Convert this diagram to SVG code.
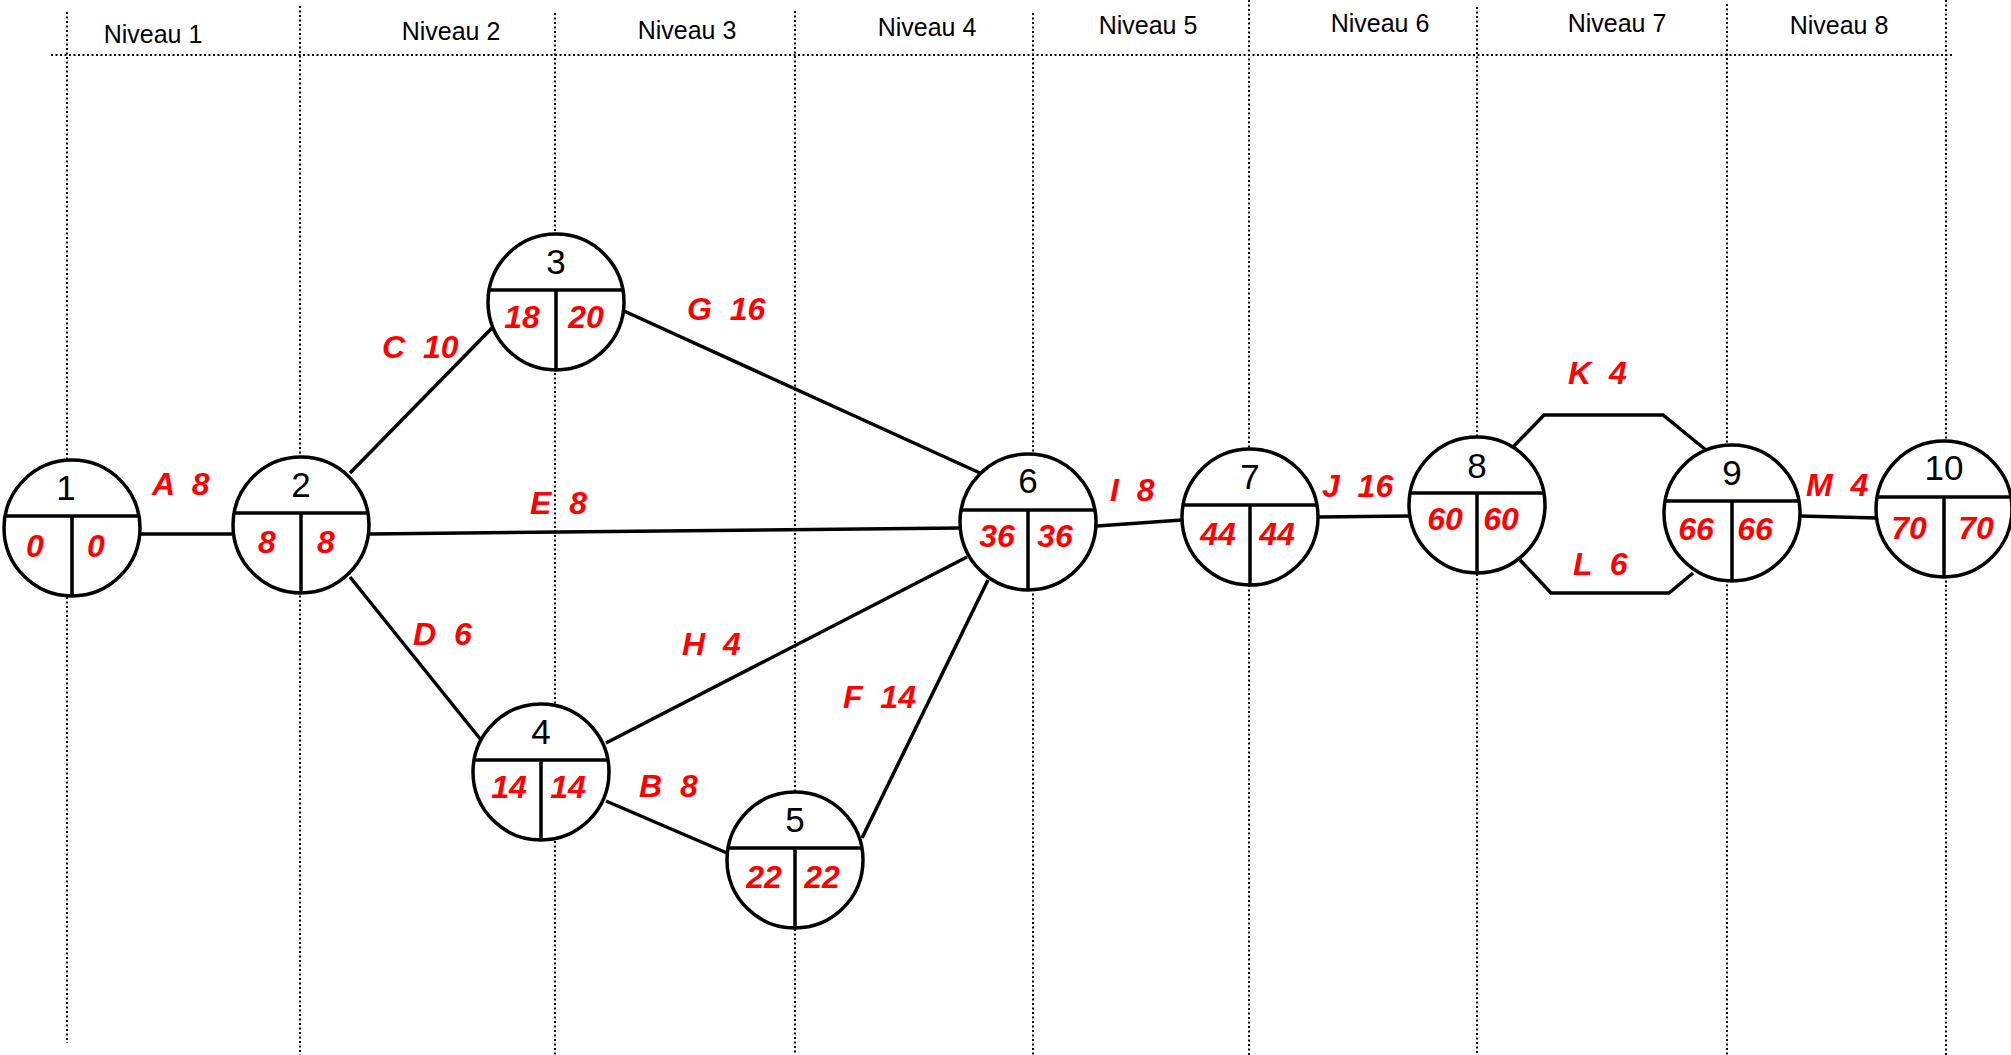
<svg xmlns="http://www.w3.org/2000/svg" xmlns:xlink="http://www.w3.org/1999/xlink" width="2011" height="1055" viewBox="0 0 2011 1055">
  <style>
    .grid { stroke: #000; stroke-width: 2; stroke-dasharray: 2 2.5; fill: none; }
    .lvl { font-family: "Liberation Sans", Arial, sans-serif; font-size: 25px; fill: #000; text-anchor: middle; }
    .edge { stroke: #000; stroke-width: 3.5; fill: none; stroke-linejoin: miter; }
    .elabel { font-family: "Liberation Sans", Arial, sans-serif; font-size: 32px; font-weight: bold; font-style: italic; fill: #ff0000; }
    .ring { fill: #fff; stroke: #000; stroke-width: 3.5; }
    .div { stroke: #000; stroke-width: 3.5; }
    .num { font-family: "Liberation Sans", Arial, sans-serif; font-size: 35px; fill: #000; text-anchor: middle; }
    .val { font-family: "Liberation Sans", Arial, sans-serif; font-size: 32px; font-weight: bold; font-style: italic; fill: #ff0000; text-anchor: middle; }
  </style>
  <defs>
    <!-- event circle: number on top, earliest / latest dates below -->
    <g id="node-shape">
      <circle class="ring" cx="0" cy="0" r="68"/>
      <line class="div" x1="-67" y1="-12" x2="67" y2="-12"/>
      <line class="div" x1="0" y1="-12" x2="0" y2="68"/>
    </g>
  </defs>

  <rect width="2011" height="1055" fill="#fff"/>

  <!-- level grid -->
  <g id="grid">
    <line class="grid" x1="51" y1="55" x2="1953" y2="55"/>
    <line class="grid" x1="67" y1="12" x2="67" y2="1043"/>
    <line class="grid" x1="300" y1="6" x2="300" y2="1055"/>
    <line class="grid" x1="555" y1="13" x2="555" y2="1055"/>
    <line class="grid" x1="795" y1="11" x2="795" y2="1055"/>
    <line class="grid" x1="1033" y1="13" x2="1033" y2="1055"/>
    <line class="grid" x1="1249" y1="0" x2="1249" y2="1055"/>
    <line class="grid" x1="1477" y1="7" x2="1477" y2="1055"/>
    <line class="grid" x1="1727" y1="4" x2="1727" y2="1055"/>
    <line class="grid" x1="1946" y1="0" x2="1946" y2="1055"/>
    <text class="lvl" x="153" y="43">Niveau 1</text>
    <text class="lvl" x="451" y="40">Niveau 2</text>
    <text class="lvl" x="687" y="39">Niveau 3</text>
    <text class="lvl" x="927" y="36">Niveau 4</text>
    <text class="lvl" x="1148" y="34">Niveau 5</text>
    <text class="lvl" x="1380" y="32">Niveau 6</text>
    <text class="lvl" x="1617" y="32">Niveau 7</text>
    <text class="lvl" x="1839" y="34">Niveau 8</text>
  </g>

  <!-- activities -->
  <g id="connectors">
    <line class="edge" x1="140" y1="534" x2="233" y2="534"/>
    <line class="edge" x1="350" y1="473" x2="492" y2="328"/>
    <line class="edge" x1="369" y1="534" x2="960" y2="528"/>
    <line class="edge" x1="350" y1="577" x2="481" y2="740"/>
    <line class="edge" x1="624" y1="311" x2="980" y2="473"/>
    <line class="edge" x1="606" y1="743" x2="967" y2="557"/>
    <line class="edge" x1="606" y1="801" x2="727" y2="853"/>
    <line class="edge" x1="862" y1="838" x2="988" y2="580"/>
    <line class="edge" x1="1097" y1="526" x2="1182" y2="520"/>
    <line class="edge" x1="1318" y1="517" x2="1409" y2="516"/>
    <polyline class="edge" points="1513,447 1544,415 1663,415 1706,450"/>
    <polyline class="edge" points="1520,560 1551,593 1669,593 1693,573"/>
    <line class="edge" x1="1800" y1="516" x2="1877" y2="518"/>

    <text class="elabel" xml:space="preserve" x="152" y="495">A  8</text>
    <text class="elabel" xml:space="preserve" x="382" y="358">C  10</text>
    <text class="elabel" xml:space="preserve" x="687" y="320">G  16</text>
    <text class="elabel" xml:space="preserve" x="530" y="514">E  8</text>
    <text class="elabel" xml:space="preserve" x="413" y="645">D  6</text>
    <text class="elabel" xml:space="preserve" x="682" y="655">H  4</text>
    <text class="elabel" xml:space="preserve" x="639" y="797">B  8</text>
    <text class="elabel" xml:space="preserve" x="843" y="708">F  14</text>
    <text class="elabel" xml:space="preserve" x="1110" y="501">I  8</text>
    <text class="elabel" xml:space="preserve" x="1322" y="497">J  16</text>
    <text class="elabel" xml:space="preserve" x="1568" y="384">K  4</text>
    <text class="elabel" xml:space="preserve" x="1573" y="575">L  6</text>
    <text class="elabel" xml:space="preserve" x="1806" y="496">M  4</text>
  </g>

  <!-- events -->
  <g id="node1" transform="translate(72,528)">
    <use href="#node-shape" xlink:href="#node-shape"/>
    <text class="num" x="-6" y="-28">1</text>
    <text class="val" x="-37" y="29">0</text>
    <text class="val" x="24" y="29">0</text>
  </g>
  <g id="node2" transform="translate(301,525)">
    <use href="#node-shape" xlink:href="#node-shape"/>
    <text class="num" x="0" y="-28">2</text>
    <text class="val" x="-34" y="28">8</text>
    <text class="val" x="25" y="28">8</text>
  </g>
  <g id="node3" transform="translate(556,302)">
    <use href="#node-shape" xlink:href="#node-shape"/>
    <text class="num" x="0" y="-28">3</text>
    <text class="val" x="-34" y="26">18</text>
    <text class="val" x="30" y="26">20</text>
  </g>
  <g id="node4" transform="translate(541,772)">
    <use href="#node-shape" xlink:href="#node-shape"/>
    <text class="num" x="0" y="-28">4</text>
    <text class="val" x="-32" y="26">14</text>
    <text class="val" x="27" y="26">14</text>
  </g>
  <g id="node5" transform="translate(795,860)">
    <use href="#node-shape" xlink:href="#node-shape"/>
    <text class="num" x="0" y="-28">5</text>
    <text class="val" x="-31" y="28">22</text>
    <text class="val" x="27" y="28">22</text>
  </g>
  <g id="node6" transform="translate(1028,522)">
    <use href="#node-shape" xlink:href="#node-shape"/>
    <text class="num" x="0" y="-29">6</text>
    <text class="val" x="-31" y="25">36</text>
    <text class="val" x="27" y="25">36</text>
  </g>
  <g id="node7" transform="translate(1250,517)">
    <use href="#node-shape" xlink:href="#node-shape"/>
    <text class="num" x="0" y="-28">7</text>
    <text class="val" x="-32" y="28">44</text>
    <text class="val" x="27" y="28">44</text>
  </g>
  <g id="node8" transform="translate(1477,505)">
    <use href="#node-shape" xlink:href="#node-shape"/>
    <text class="num" x="0" y="-27">8</text>
    <text class="val" x="-32" y="25">60</text>
    <text class="val" x="24" y="25">60</text>
  </g>
  <g id="node9" transform="translate(1732,513)">
    <use href="#node-shape" xlink:href="#node-shape"/>
    <text class="num" x="0" y="-28">9</text>
    <text class="val" x="-36" y="27">66</text>
    <text class="val" x="23" y="27">66</text>
  </g>
  <g id="node10" transform="translate(1944,509)">
    <use href="#node-shape" xlink:href="#node-shape"/>
    <text class="num" x="0" y="-29">10</text>
    <text class="val" x="-35" y="30">70</text>
    <text class="val" x="32" y="30">70</text>
  </g>
</svg>
